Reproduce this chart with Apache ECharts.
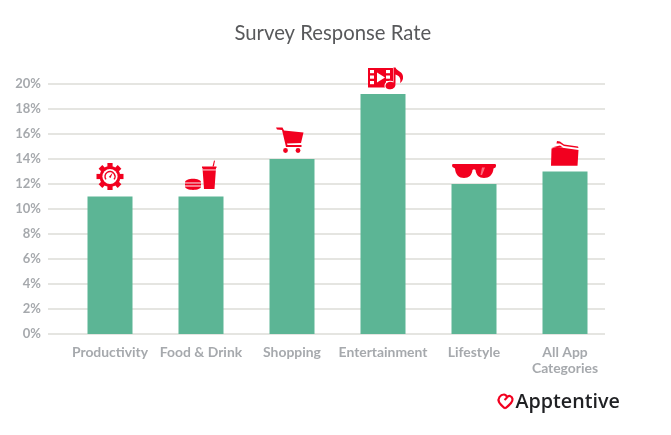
<!DOCTYPE html>
<html>
<head>
    <meta charset="utf-8"/>
    <style>
        html, body { margin: 0; width: 100%; height: 100%; background: #fff; }
        #chart { width: 671px; height: 435px; }
    </style>
    <script src="https://cdn.jsdelivr.net/npm/echarts@6/dist/echarts.min.js"></script>
</head>
<body>
<div id="chart"></div>
<script>
    var categories = ['Productivity', 'Food & Drink', 'Shopping', 'Entertainment', 'Lifestyle', 'All App\nCategories'];
    var responseRate = [11, 11, 14, 19.2, 12, 13];
    var icons = ['gear', 'food', 'cart', 'media', 'glasses', 'folder'];

    var RED = '#f2001f';
    var LABEL = '#a6a9ad';

    function p(d, fill) {
        return {type: 'path', shape: {pathData: d}, style: {fill: fill || RED}};
    }
    function c(x, y, r, fill) {
        return {type: 'circle', shape: {cx: x, cy: y, r: r}, style: {fill: fill || RED}};
    }
    function r(x, y, w, h, fill) {
        return {type: 'rect', shape: {x: x, y: y, width: w, height: h}, style: {fill: fill || RED}};
    }

    // icons are drawn around (0,0) = top centre of the bar
    function gearIcon() {
        var parts = [c(0, -20, 10.5)];
        for (var i = 0; i < 8; i++) {
            parts.push({
                type: 'rect', shape: {x: -2.6, y: -13.5, width: 5.2, height: 5},
                x: 0, y: -20, rotation: i * Math.PI / 4, style: {fill: RED}
            });
        }
        parts.push(c(0, -20, 7.6, '#fff'));
        parts.push({
            type: 'arc', shape: {cx: 0, cy: -20, r: 5, startAngle: Math.PI * 0.8, endAngle: Math.PI * 2.2},
            style: {stroke: RED, lineWidth: 1.4, fill: null}
        });
        parts.push(p('M-1.2-19.4 L2.8-24 L0.6-18.4 Z'));
        return parts;
    }
    function foodIcon() {
        return [
            p('M1-30 H15.5 V-28.5 H15 L13.5-7.5 H3 L1.5-28.5 H1 Z'),
            r(1.5, -27, 14, 0.9, '#fff'),
            p('M11.5-30 L13-36 L14-35.7 L12.8-30 Z'),
            p('M-16-14 C-16-19 -0-19 -0-14 Z'),
            r(-16, -13, 16, 2),
            p('M-16-10 H0 C0-5.5 -16-5.5 -16-10 Z')
        ];
    }
    function cartIcon() {
        return [
            p('M-16-31.5 H-9.5 L-8-28.5 L11.5-26.5 L9-16 L-5-15.5 L-4.5-14 H9.5 V-12 H-6 L-10-29 L-15-29.5 Z'),
            c(-6.5, -8.5, 2.4),
            c(6, -8.5, 2.4)
        ];
    }
    function mediaIcon() {
        var parts = [p('M-15-26 H10 V-6.5 H-15 Z')];
        [-13, 3].forEach(function (x) {
            [-24, -18.5, -13].forEach(function (y) {
                parts.push(r(x, y, 4, 3.2, '#fff'));
            });
        });
        parts.push(p('M-6-21.5 L2-16.5 L-6-11.5 Z', '#fff'));
        parts.push(p('M8.5-27.5 H13.5 L13-11 C13-3.5 1-2 1.5-8.5 C2-13 7.5-14 10.5-12.5 L10.5-25 Z', '#fff'));
        parts.push(p('M10.5-26.5 H12.5 C13.5-22.5 21-23 20-15.5 C19.5-13 18.5-12 17-11 C18-14 17.5-18 12.5-19.5 V-9.5 C12.5-3.5 2-3 2.5-8.5 C3-12.5 8-13 10.5-11.5 Z'));
        return parts;
    }
    function glassesIcon() {
        return [
            p('M-21-20 H21 C22-20 22.2-19 22-18 L21.5-16.5 L19.5-15.5 C19-9 15-6 10-6 C5-6 2-9 1.5-14 C0.5-15 -0.5-15 -1.5-14 C-2-9 -5-6 -10-6 C-15-6 -18.5-9 -19-15.5 L-21.5-17 C-22.2-18.5 -22-20 -21-20 Z'),
            p('M8-16.5 L11-16.5 L8-9 L6.5-9 Z', '#ff6b7d')
        ];
    }
    function folderIcon() {
        return [
            p('M-14-5.8 L-13.5-23 L-8-24.5 L10-22 L13.5-21.5 L12.5-5.8 Z'),
            p('M-8-30.5 L-5-30 L-1-27 L13-25 L13.5-23.5 L-1-25.5 L-5-28 L-8.5-28 Z'),
            p('M-13.5-24 L-5-26 L-2-24 Z')
        ];
    }
    var iconParts = {
        gear: gearIcon, food: foodIcon, cart: cartIcon,
        media: mediaIcon, glasses: glassesIcon, folder: folderIcon
    };

    var chart = echarts.init(document.getElementById('chart'));

    chart.setOption({
        animation: false,
        backgroundColor: '#fff',
        title: {
            text: 'Survey Response Rate',
            left: 229.5, top: 18,
            textStyle: {fontFamily: 'Lato', fontSize: 20.3, fontWeight: 'normal', color: '#58595b'}
        },
        // grid 0 carries the gridlines, grid 1 the bars: the lines start further left than the first band
        grid: [
            {left: 48, top: 84, width: 557, height: 250},
            {left: 64.5, top: 84, width: 546, height: 250}
        ],
        xAxis: [
            {gridIndex: 0, type: 'category', data: categories, show: false},
            {
                gridIndex: 1, type: 'category', data: categories,
                axisLine: {show: false}, axisTick: {show: false},
                axisLabel: {
                    interval: 0, margin: 11, lineHeight: 15.5,
                    fontFamily: 'Lato', fontSize: 13.9, fontWeight: 'bold', color: LABEL
                }
            }
        ],
        yAxis: [
            {
                gridIndex: 0, type: 'value', min: 0, max: 20, interval: 2,
                axisLine: {show: false}, axisTick: {show: false},
                axisLabel: {
                    margin: 7, formatter: '{value}%',
                    fontFamily: 'Lato', fontSize: 13, fontWeight: 'bold', color: LABEL
                },
                splitLine: {lineStyle: {color: '#dcdcd7', width: 1.5}}
            },
            {gridIndex: 1, type: 'value', min: 0, max: 20, show: false}
        ],
        series: [
            {
                type: 'bar', xAxisIndex: 1, yAxisIndex: 1,
                data: responseRate, barWidth: 45,
                itemStyle: {color: '#5cb595'}
            },
            {
                type: 'custom', xAxisIndex: 1, yAxisIndex: 1,
                data: responseRate,
                renderItem: function (params, api) {
                    var pos = api.coord([params.dataIndex, api.value(1)]);
                    return {
                        type: 'group', x: pos[0], y: pos[1],
                        children: iconParts[icons[params.dataIndex]]()
                    };
                },
                encode: {x: 0, y: 1}
            }
        ],
        graphic: [
            {
                type: 'text', x: 515.5, y: 392,
                style: {
                    text: 'Apptentive', fill: '#1f2023',
                    font: '600 19.7px "Open Sans"'
                }
            },
            {
                type: 'polyline', x: 498, y: 393,
                shape: {
                    points: [[7, 15.5], [1, 9], [1.5, 4], [6, 1.5], [9, 4], [6.5, 7]],
                    smooth: 0.3
                },
                style: {fill: null, stroke: RED, lineWidth: 2.2}
            },
            {
                type: 'polyline', x: 498, y: 393,
                shape: {
                    points: [[9, 4], [12, 3], [14.5, 6], [13, 10], [7, 15.5]],
                    smooth: 0.3
                },
                style: {fill: null, stroke: RED, lineWidth: 2.2}
            }
        ]
    });
</script>
</body>
</html>
